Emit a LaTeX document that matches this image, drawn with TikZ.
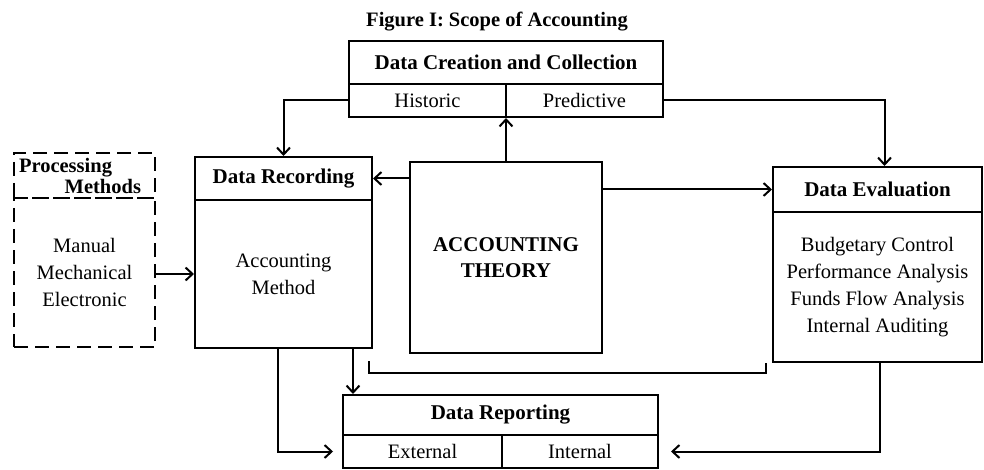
\documentclass[tikz,border=0pt]{standalone}
\usepackage{fontspec}
\setmainfont{Liberation Serif}
\usepackage{tikz}
\usetikzlibrary{arrows.meta,calc,positioning}

\begin{document}
\begin{tikzpicture}[x=1pt,y=-1pt,>={Straight Barb[length=7pt,width=13pt]},line width=2pt,
	font=\fontsize{20.5}{27}\selectfont,
	box/.style={draw,rectangle,inner sep=0pt,align=center},
	hbox/.style={box,font=\fontsize{21}{26}\selectfont\bfseries},
	dbox/.style={box,dash pattern=on 14pt off 7pt}]
								\useasboundingbox (0,0) rectangle (984,470);
								\node[font=\fontsize{20.5}{22}\selectfont\bfseries] (title) at (497,22) {Figure I: Scope of Accounting};
								
								\node[hbox,minimum width=314,minimum height=43] (creathead) at (506,62.5) {Data Creation and Collection};
								\node[box,minimum width=157,minimum height=33] (hist) at (427.5,100.5) {Historic};
								\node[box,minimum width=157,minimum height=33] (pred) at (584.5,100.5) {Predictive};
								
								\node[dbox,minimum width=141,minimum height=45,text width=141,align=left,font=\fontsize{20.5}{21}\selectfont\bfseries] (prochead) at (84.5,175.5) {\hspace*{5pt}Processing\\\hfill Methods\hspace*{14pt}\null};
								\node[dbox,minimum width=141,minimum height=149] (procbody) at (84.5,272.5) {Manual\\Mechanical\\Electronic};
								
								\node[hbox,minimum width=177,minimum height=43] (rechead) at (283.5,178.5) {Data Recording};
								\node[box,minimum width=177,minimum height=148] (recbody) at (283.5,274) {Accounting\\Method};
								
								\node[hbox,minimum width=192,minimum height=191] (theory) at (506,257.5) {ACCOUNTING\\THEORY};
								
								\node[hbox,minimum width=209,minimum height=45] (evalhead) at (877.5,189.5) {Data Evaluation};
								\node[box,minimum width=209,minimum height=150] (evalbody) at (877.5,287) {Budgetary Control\\Performance Analysis\\Funds Flow Analysis\\Internal Auditing};
								
								\node[hbox,minimum width=315,minimum height=40] (rephead) at (500.5,415) {Data Reporting};
								\node[box,minimum width=159,minimum height=33] (ext) at (422.5,451.5) {External};
								\node[box,minimum width=156,minimum height=33] (int) at (580,451.5) {Internal};
								
								\draw[->] (hist.west) -| (rechead.north);
								\draw[->] (pred.east) -| ([xshift=7pt]evalhead.north);
								\draw[->] (theory.north) -- (theory.north |- hist.south);
								\draw[->] (theory.west |- rechead.east) -- (rechead.east);
								\draw[->] (theory.east |- evalhead.west) -- (evalhead.west);
								\draw[->] (procbody.east |- recbody.west) -- (recbody.west);
								
								\draw[->] ([xshift=-6pt]recbody.south) |- ([xshift=-9pt]ext.west);
								\draw[->] ([xshift=-20pt]recbody.south east) -- ([xshift=-20pt]recbody.south east |- rephead.north);
								\draw ([xshift=-4pt,yshift=-12pt]recbody.south east) |- ([xshift=-6pt,yshift=-10pt]evalbody.south west) -- ([xshift=-6pt]evalbody.south west);
								\draw[->] ([xshift=2pt]evalbody.south) |- ([xshift=12pt]int.east);
							\end{tikzpicture}
\end{document}
